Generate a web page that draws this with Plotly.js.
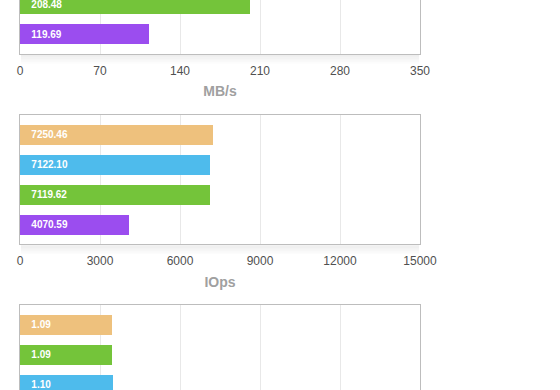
<!DOCTYPE html>
<html>
<head>
<meta charset="utf-8">
<script src="https://cdn.plot.ly/plotly-3.0.1.min.js"></script>
<style>html,body{margin:0;padding:0;background:#fff;}#chart{width:560px;height:390px;}</style>
</head>
<body>
<div id="chart"></div>
<script>
// ---- data (top to bottom within each panel) ----
// Panel 1: throughput (MB/s) — only the two lowest bars are visible
const mbpsLabels = ["208.48", "119.69"];
const mbpsValues = [201.3, 113.2];          // bar lengths as read against the axis
const mbpsTicks  = [0, 70, 140, 210, 280, 350];
const mbpsTickText = ["0", "70", "140", "210", "280", "350"];

// Panel 2: IOps
const iopsLabels = ["7250.46", "7122.10", "7119.62", "4070.59"];
const iopsValues = [7250.46, 7122.10, 7119.62, 4070.59];
const iopsTicks  = [0, 3000, 6000, 9000, 12000, 15000];
const iopsTickText = ["0", "3000", "6000", "9000", "12000", "15000"];

// Panel 3: latency — only the top three bars are visible
const latLabels = ["1.09", "1.09", "1.10"];
const latValues = [1.09, 1.09, 1.10];

// ---- styles ----
const ORANGE = "#EEC17D", BLUE = "#4EBBEC", GREEN = "#74C43A", PURPLE = "#9B4DEF";
const mbpsColors = [GREEN, PURPLE];
const iopsColors = [ORANGE, BLUE, GREEN, PURPLE];
const latColors  = [ORANGE, GREEN, BLUE];

const H = 390;
const pad = "\u00a0\u00a0\u00a0";

function slotPositions(n, topSlot) { // slot index, top bar gets highest index
  return Array.from({length: n}, (_, i) => topSlot - i);
}

function barTrace(vals, labels, colors, topSlot, xa, ya) {
  return {
    type: "bar", orientation: "h",
    x: vals, y: slotPositions(vals.length, topSlot),
    xaxis: xa, yaxis: ya,
    width: 0.667,
    marker: {color: colors, line: {width: 0}},
    text: labels,
    texttemplate: pad + "%{text}",
    textposition: "inside",
    insidetextanchor: "start",
    textangle: 0,
    textfont: {family: "Liberation Sans, Arial, sans-serif", size: 10, color: "#ffffff", weight: "bold"},
    hoverinfo: "skip",
    showlegend: false
  };
}

const traces = [
  barTrace(mbpsValues, mbpsLabels, mbpsColors, 1, "x", "y"),
  barTrace(iopsValues, iopsLabels, iopsColors, 3, "x2", "y2"),
  barTrace(latValues, latLabels, latColors, 3, "x3", "y3")
];

const BORDER = "#bdbdbd", GRID = "#e8e8e8";
const tickFont = {family: "Liberation Sans, Arial, sans-serif", size: 12, color: "#505050"};
const titleFont = {family: "Liberation Sans, Arial, sans-serif", size: 14, color: "#a0a0a0", weight: "bold"};

function xAxisBase(extra) {
  return Object.assign({
    showgrid: true, gridcolor: GRID, gridwidth: 1,
    zeroline: false, showline: true, linecolor: BORDER, linewidth: 1,
    ticks: "", tickfont: tickFont, fixedrange: true
  }, extra);
}
function yAxisBase(extra) {
  return Object.assign({
    showgrid: false, zeroline: false, showline: true, mirror: true,
    linecolor: BORDER, linewidth: 1, showticklabels: false, ticks: "", fixedrange: true
  }, extra);
}

// pixel -> paper fraction
const py = p => 1 - p / H;

// plot shadows below panels 1 and 2
const shapes = [];
[53.7, 244.3].forEach(bottom => {
  for (let i = 0; i < 6; i++) {
    shapes.push({
      type: "rect", xref: "paper", yref: "paper", layer: "below",
      x0: 0.002, x1: 0.998, y0: py(bottom + 1), y1: py(bottom + 2 + i * 1.6),
      fillcolor: "rgba(0,0,0,0.012)", line: {width: 0}
    });
  }
});

const layout = {
  width: 560, height: 390,
  margin: {l: 20, r: 140, t: 0, b: 0, pad: 0},
  paper_bgcolor: "#ffffff", plot_bgcolor: "#ffffff",
  bargap: 0,
  shapes: shapes,
  xaxis: xAxisBase({anchor: "y", range: [0, 350], tickvals: mbpsTicks, ticktext: mbpsTickText, mirror: false,
    ticklabelstandoff: 6, automargin: false,
    title: {text: "MB/s", font: titleFont, standoff: 9}}),
  yaxis: yAxisBase({anchor: "x", domain: [py(53.7), 1], range: [-0.65, 1.14]}),
  xaxis2: xAxisBase({anchor: "y2", range: [0, 15000], tickvals: iopsTicks, ticktext: iopsTickText, mirror: true,
    ticklabelstandoff: 5, automargin: false,
    title: {text: "IOps", font: titleFont, standoff: 10}}),
  yaxis2: yAxisBase({anchor: "x2", domain: [py(244.3), py(115.3)], range: [-0.65, 3.65]}),
  xaxis3: xAxisBase({anchor: "y3", side: "top", range: [0, 4.72], dtick: 0.944, tick0: 0,
    showticklabels: false, mirror: false}),
  yaxis3: yAxisBase({anchor: "x3", domain: [0, py(305.3)], range: [0.827, 3.65]})
};

Plotly.newPlot("chart", traces, layout, {displayModeBar: false, staticPlot: true});
</script>
</body>
</html>
